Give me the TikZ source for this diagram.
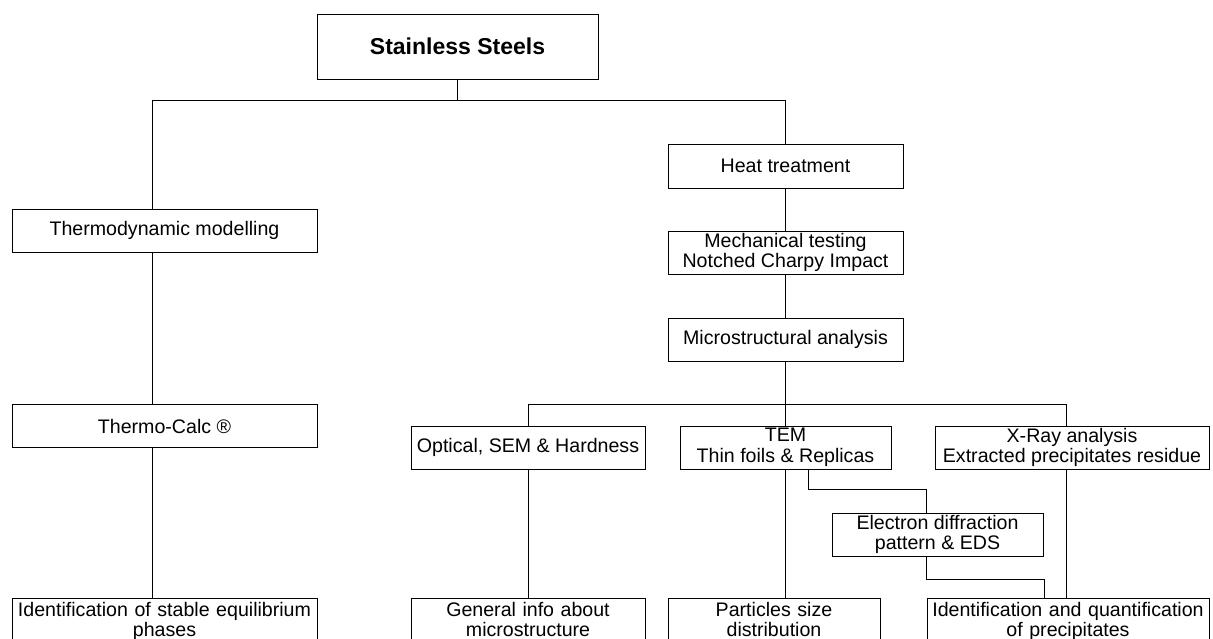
\documentclass[tikz,border=0pt]{standalone}
\usepackage{fontspec}
\setmainfont{Liberation Sans}
\newcommand{\lowrule}{\rule[-12pt]{0pt}{12pt}}
\begin{document}
\begin{tikzpicture}[x=1pt,y=-1pt,
  box/.style={draw, line width=1pt, inner sep=0pt, align=center,
    font=\fontsize{19.6}{20.5}\selectfont},
  botbox/.style={box, anchor=north, inner xsep=0pt, inner ysep=3.5pt},
  conn/.style={line width=1pt}]
\useasboundingbox (0,0) rectangle (1213,638);
\clip (0,0) rectangle (1213,638);

% top
\node[box, minimum width=281pt, minimum height=65pt,
  font=\bfseries\fontsize{23}{25}\selectfont] (ss) at (457.5,46.5) {Stainless Steels};

% left column
\node[box, minimum width=305pt, minimum height=43pt] (td) at (164.5,230.5) {Thermodynamic modelling};
\node[box, minimum width=305pt, minimum height=43pt] (tc) at (164.5,426) {Thermo-Calc ®};
\node[botbox, text width=305pt] (id1) at (164.5,598) {Identification of stable equilibrium\\phases\lowrule};

% right column
\node[box, minimum width=235pt, minimum height=44pt] (ht) at (785.5,166) {Heat treatment};
\node[box, minimum width=235pt, minimum height=43pt] (mt) at (785.5,252.5) {Mechanical testing\\Notched Charpy Impact};
\node[box, minimum width=235pt, minimum height=43pt] (ma) at (785.5,339.5) {Microstructural analysis};

\node[box, minimum width=234pt, minimum height=43pt] (os) at (528,447.5) {Optical, SEM \& Hardness};
\node[box, minimum width=211pt, minimum height=43pt] (tem) at (785.5,447.5) {TEM\\Thin foils \& Replicas};
\node[box, minimum width=274pt, minimum height=43pt] (xr) at (1072,447.5) {X-Ray analysis\\Extracted precipitates residue};
\node[box, minimum width=211pt, minimum height=43pt] (ed) at (937.5,534.5) {Electron diffraction\\pattern \& EDS};

\node[botbox, text width=234pt] (gi) at (528,598) {General info about\\microstructure\lowrule};
\node[botbox, text width=212pt] (ps) at (774,598) {Particles size\\distribution\lowrule};
\node[botbox, text width=282pt] (iq) at (1068,598) {Identification and quantification\\of precipitates\lowrule};

% connectors
\coordinate (barL) at (152,100);
\coordinate (barR) at (785.5,100);
\draw[conn] (ss.south) -- (ss.south |- barL);
\draw[conn] (barL) -- (barR);
\draw[conn] (barL) -- (barL |- td.north);
\draw[conn] (barR) -- (ht.north);
\draw[conn] (barL |- td.south) -- (barL |- tc.north);
\draw[conn] (barL |- tc.south) -- (barL |- id1.north);
\draw[conn] (ht) -- (mt);
\draw[conn] (mt) -- (ma);

\coordinate (bar2L) at (528,404);
\coordinate (bar2R) at (1066,404);
\draw[conn] (ma.south) -- (ma.south |- bar2L);
\draw[conn] (bar2L) -- (bar2R);
\draw[conn] (bar2L) -- (os.north);
\draw[conn] (ma.south |- bar2L) -- (tem.north);
\draw[conn] (bar2R) -- (bar2R |- xr.north);
\draw[conn] (os.south) -- (os.south |- gi.north);
\draw[conn] (tem.south) -- (tem.south |- ps.north);
\draw[conn] (bar2R |- xr.south) -- (bar2R |- iq.north);

\coordinate (eA) at (808,489);
\coordinate (eB) at (926,489);
\draw[conn] (eA |- tem.south) -- (eA) -- (eB) -- (eB |- ed.north);
\coordinate (eC) at (926,579);
\coordinate (eD) at (1044,579);
\draw[conn] (eC |- ed.south) -- (eC) -- (eD) -- (eD |- iq.north);
\end{tikzpicture}
\end{document}
